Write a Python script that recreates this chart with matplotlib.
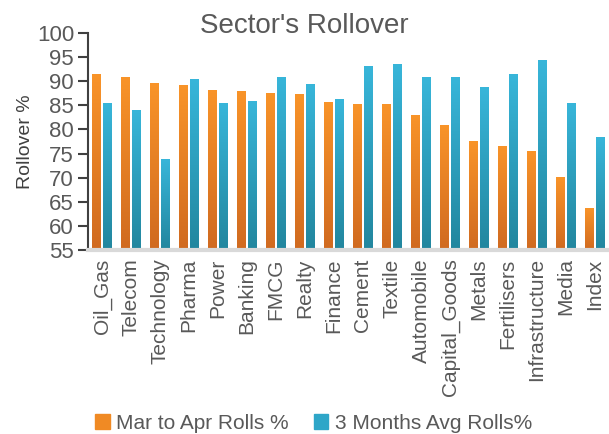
import numpy as np
import matplotlib
matplotlib.use('Agg')
import matplotlib.pyplot as plt
from matplotlib.colors import LinearSegmentedColormap
from matplotlib.patches import Patch

sectors = ['Oil_Gas', 'Telecom', 'Technology', 'Pharma', 'Power', 'Banking', 'FMCG',
           'Realty', 'Finance', 'Cement', 'Textile', 'Automobile', 'Capital_Goods',
           'Metals', 'Fertilisers', 'Infrastructure', 'Media', 'Index']
marToApr = [91.5, 90.9, 89.6, 89.2, 88.2, 88.0, 87.6, 87.3, 85.7, 85.3, 85.3,
            83.0, 80.9, 77.6, 76.6, 75.5, 70.1, 63.7]
threeMonths = [85.5, 84.0, 73.9, 90.4, 85.5, 85.9, 90.9, 89.4, 86.3, 93.2, 93.6,
               90.9, 90.9, 88.8, 91.5, 94.4, 85.5, 78.4]

plt.rcParams['font.family'] = ['Liberation Sans Narrow', 'Liberation Sans', 'DejaVu Sans']
textColor = '#595959'

orangeMap = LinearSegmentedColormap.from_list('o', ['#D06A20', '#F99429'])
blueMap = LinearSegmentedColormap.from_list('b', ['#22869E', '#38B6DA'])


def gradientBars(ax, bars, cmap):
    # paint each bar with a vertical gradient clipped to its own shape
    grad = np.linspace(0, 1, 256).reshape(-1, 1)
    for b in bars:
        x0, y0 = b.get_x(), b.get_y()
        w, h = b.get_width(), b.get_height()
        im = ax.imshow(grad, cmap=cmap, origin='lower', aspect='auto',
                       extent=[x0, x0 + w, 55, y0 + h], zorder=2)
        im.set_clip_path(b)
        b.set_facecolor('none')


fig = plt.figure(figsize=(6.09, 4.34), dpi=100)
ax = fig.add_axes([0.1445, 0.424, 0.854, 0.500])

x = np.arange(len(sectors))
w = 0.31
b1 = ax.bar(x - 0.19, marToApr, w, color='#F08A24', zorder=2, linewidth=0)
b2 = ax.bar(x + 0.19, threeMonths, w, color='#2EA6C8', zorder=2, linewidth=0)
gradientBars(ax, b1, orangeMap)
gradientBars(ax, b2, blueMap)

ax.set_ylim(55, 100)
ax.set_xlim(-0.48, 17.45)
ax.set_yticks(np.arange(55, 101, 5))
ax.set_xticks(x)
ax.set_xticklabels(sectors, rotation=90, fontsize=15, color=textColor)
ax.tick_params(axis='y', labelsize=16, labelcolor=textColor, direction='out',
               length=7, width=1.5, color='#404040', pad=3)
ax.tick_params(axis='x', length=0, pad=6)

for s in ['top', 'right']:
    ax.spines[s].set_visible(False)
ax.spines['left'].set_color('#404040')
ax.spines['left'].set_linewidth(1.5)
ax.spines['bottom'].set_color('#D9D9D9')
ax.spines['bottom'].set_linewidth(3)

ax.set_ylabel('Rollover %', fontsize=14, color='#404040', labelpad=2)
fig.suptitle("Sector's Rollover", fontsize=20, color=textColor, x=0.5, y=0.97)

handles = [Patch(color='#F08A24'), Patch(color='#2EA6C8')]
fig.legend(handles, ['Mar to Apr Rolls %', '3 Months Avg Rolls%'], loc='center',
           bbox_to_anchor=(0.515, 0.025), ncol=2, frameon=False, fontsize=15,
           labelcolor=textColor, handlelength=0.7, handleheight=0.7,
           handletextpad=0.3, columnspacing=1.2)

fig.savefig('out.png', dpi=100)
